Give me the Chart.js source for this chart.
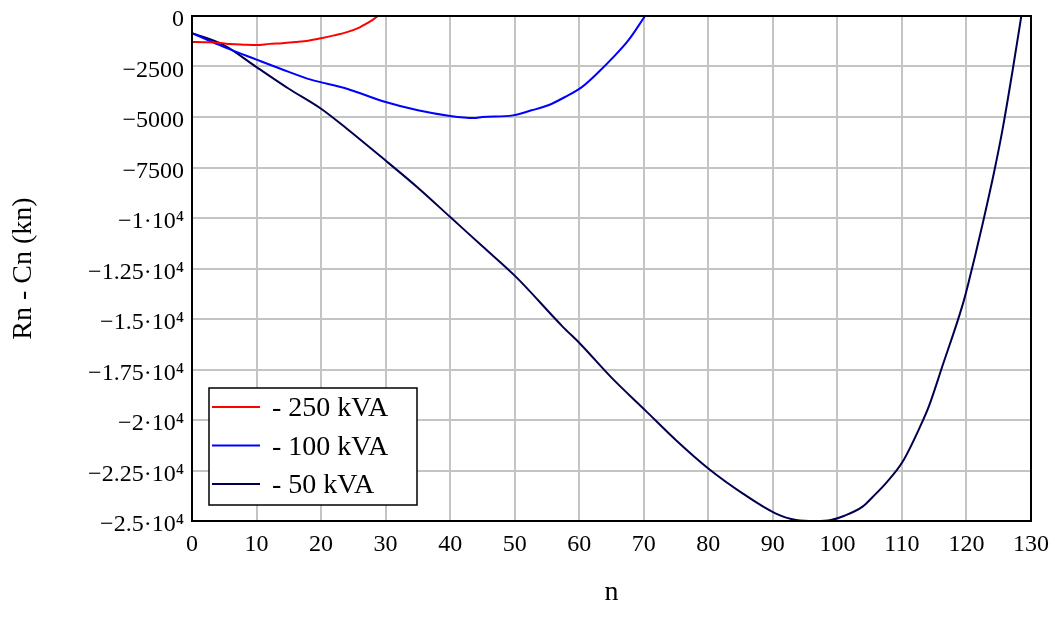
<!DOCTYPE html>
<html>
<head>
<meta charset="utf-8">
<script src="https://cdn.jsdelivr.net/npm/chart.js@4/dist/chart.umd.min.js"></script>
<style>
  html, body { margin: 0; padding: 0; background: #fff; }
  #wrap { width: 1055px; height: 617px; }
</style>
</head>
<body>
<div id="wrap"><canvas id="chart" width="1055" height="617"></canvas></div>
<script>
// series labels
const seriesLabels = ['- 250 kVA', '- 100 kVA', '- 50 kVA'];

// 250 kVA
const n250 = [0, 2, 4, 6, 8, 10, 12, 14, 16, 18, 20, 22, 24, 26, 27, 28, 28.8];
const rc250 = [-1290, -1300, -1320, -1390, -1420, -1440, -1380, -1350, -1290, -1220, -1100, -960, -800, -560, -380, -190, 0];

// 100 kVA
const n100 = [0, 2.8, 5, 10, 13.7, 18.4, 24, 30, 35, 40, 43.7, 45, 49.7, 52.6, 55.2, 57.8, 60.4, 63, 65.1, 67.6, 70.2];
const rc100 = [-845, -1240, -1540, -2160, -2610, -3150, -3600, -4260, -4670, -4950, -5050, -5000, -4920, -4670, -4420, -4010, -3520, -2775, -2100, -1210, 0];

// 50 kVA
const n50 = [0, 5, 10, 15, 20, 24, 29.2, 35, 40.1, 45, 50.2, 57.5, 60.1, 65, 70.2, 75, 80, 85.3, 90.4, 93.6, 96.6, 99, 101, 103.9, 105.5, 107.6, 110.1, 112.8, 114.2, 116.2, 119.4, 120.4, 121.4, 122.5, 124.3, 125.6, 127.2, 128.5];
const rc50 = [-845, -1450, -2530, -3600, -4590, -5580, -6945, -8500, -9980, -11400, -12915, -15400, -16210, -17900, -19510, -21000, -22400, -23630, -24620, -24950, -25000, -24950, -24750, -24290, -23800, -23100, -22070, -20340, -19300, -17400, -14300, -13100, -11800, -10300, -7700, -5600, -2600, 0];

const lineColors = ['#ff0000', '#0000ff', '#000050'];

const serif = "'Liberation Serif', 'Times New Roman', serif";

function toPoints(xs, ys) {
    return xs.map((x, i) => ({ x: x, y: ys[i] }));
}

// y tick text like −2500 or −1.25·10⁴
function yTick(v) {
    if (v === 0) return '0';
    const a = Math.abs(v);
    if (a < 10000) return '\u2212' + a;
    return '\u2212' + (a / 10000) + '\u00b710\u2074';
}

// frame around the plot area
const framePlugin = {
    id: 'frame',
    afterDatasetsDraw(chart) {
        const { ctx, chartArea: a } = chart;
        ctx.save();
        ctx.strokeStyle = '#000';
        ctx.lineWidth = 2;
        ctx.strokeRect(a.left, a.top, a.right - a.left, a.bottom - a.top);
        ctx.restore();
    }
};

// boxed legend inside the plot, bottom left
const boxLegendPlugin = {
    id: 'boxLegend',
    afterDraw(chart) {
        const { ctx, chartArea: a } = chart;
        const x0 = a.left + 17, y0 = a.bottom - 133, w = 208, h = 117;
        ctx.save();
        ctx.fillStyle = '#fff';
        ctx.fillRect(x0, y0, w, h);
        ctx.strokeStyle = '#000';
        ctx.lineWidth = 1.5;
        ctx.strokeRect(x0, y0, w, h);
        ctx.font = '28px ' + serif;
        ctx.textBaseline = 'middle';
        ctx.fillStyle = '#000';
        chart.data.datasets.forEach((ds, i) => {
            const y = y0 + 19 + i * 38.5;
            ctx.strokeStyle = ds.borderColor;
            ctx.lineWidth = 2;
            ctx.beginPath();
            ctx.moveTo(x0 + 3, y);
            ctx.lineTo(x0 + 51, y);
            ctx.stroke();
            ctx.fillText(ds.label, x0 + 63, y + 2);
        });
        ctx.restore();
    }
};

const datasets = [
    toPoints(n250, rc250),
    toPoints(n100, rc100),
    toPoints(n50, rc50)
].map((pts, i) => ({
    label: seriesLabels[i],
    data: pts,
    borderColor: lineColors[i],
    backgroundColor: lineColors[i],
    borderWidth: 2,
    pointRadius: 0,
    cubicInterpolationMode: 'monotone',
    fill: false
}));

new Chart(document.getElementById('chart'), {
    type: 'line',
    data: { datasets: datasets },
    options: {
        responsive: false,
        animation: false,
        layout: { padding: { top: 16, right: 24, bottom: 0, left: 0 } },
        plugins: {
            legend: { display: false },
            tooltip: { enabled: false }
        },
        scales: {
            x: {
                type: 'linear',
                min: 0,
                max: 130,
                ticks: {
                    stepSize: 10,
                    color: '#000',
                    font: { family: serif, size: 24 },
                    padding: 9,
                    maxRotation: 0
                },
                grid: { color: '#c4c4c4', lineWidth: 2, drawTicks: false },
                border: { display: false },
                title: {
                    display: true,
                    text: 'n',
                    color: '#000',
                    font: { family: serif, size: 28 },
                    padding: { top: 0, bottom: 8 }
                },
                afterFit(scale) {
                    scale.height = 96;
                    scale.paddingLeft = 0;
                    scale.paddingRight = 0;
                }
            },
            y: {
                type: 'linear',
                min: -25000,
                max: 0,
                ticks: {
                    stepSize: 2500,
                    color: '#000',
                    font: { family: serif, size: 24 },
                    padding: 8,
                    labelOffset: 4,
                    callback: yTick
                },
                grid: { color: '#c4c4c4', lineWidth: 2, drawTicks: false },
                border: { display: false },
                title: {
                    display: true,
                    text: 'Rn - Cn (kn)',
                    color: '#000',
                    font: { family: serif, size: 28 },
                    padding: { top: 7, bottom: 0 }
                },
                afterFit(scale) {
                    scale.width = 192;
                    scale.paddingTop = 0;
                    scale.paddingBottom = 0;
                }
            }
        }
    },
    plugins: [framePlugin, boxLegendPlugin]
});
</script>
</body>
</html>
